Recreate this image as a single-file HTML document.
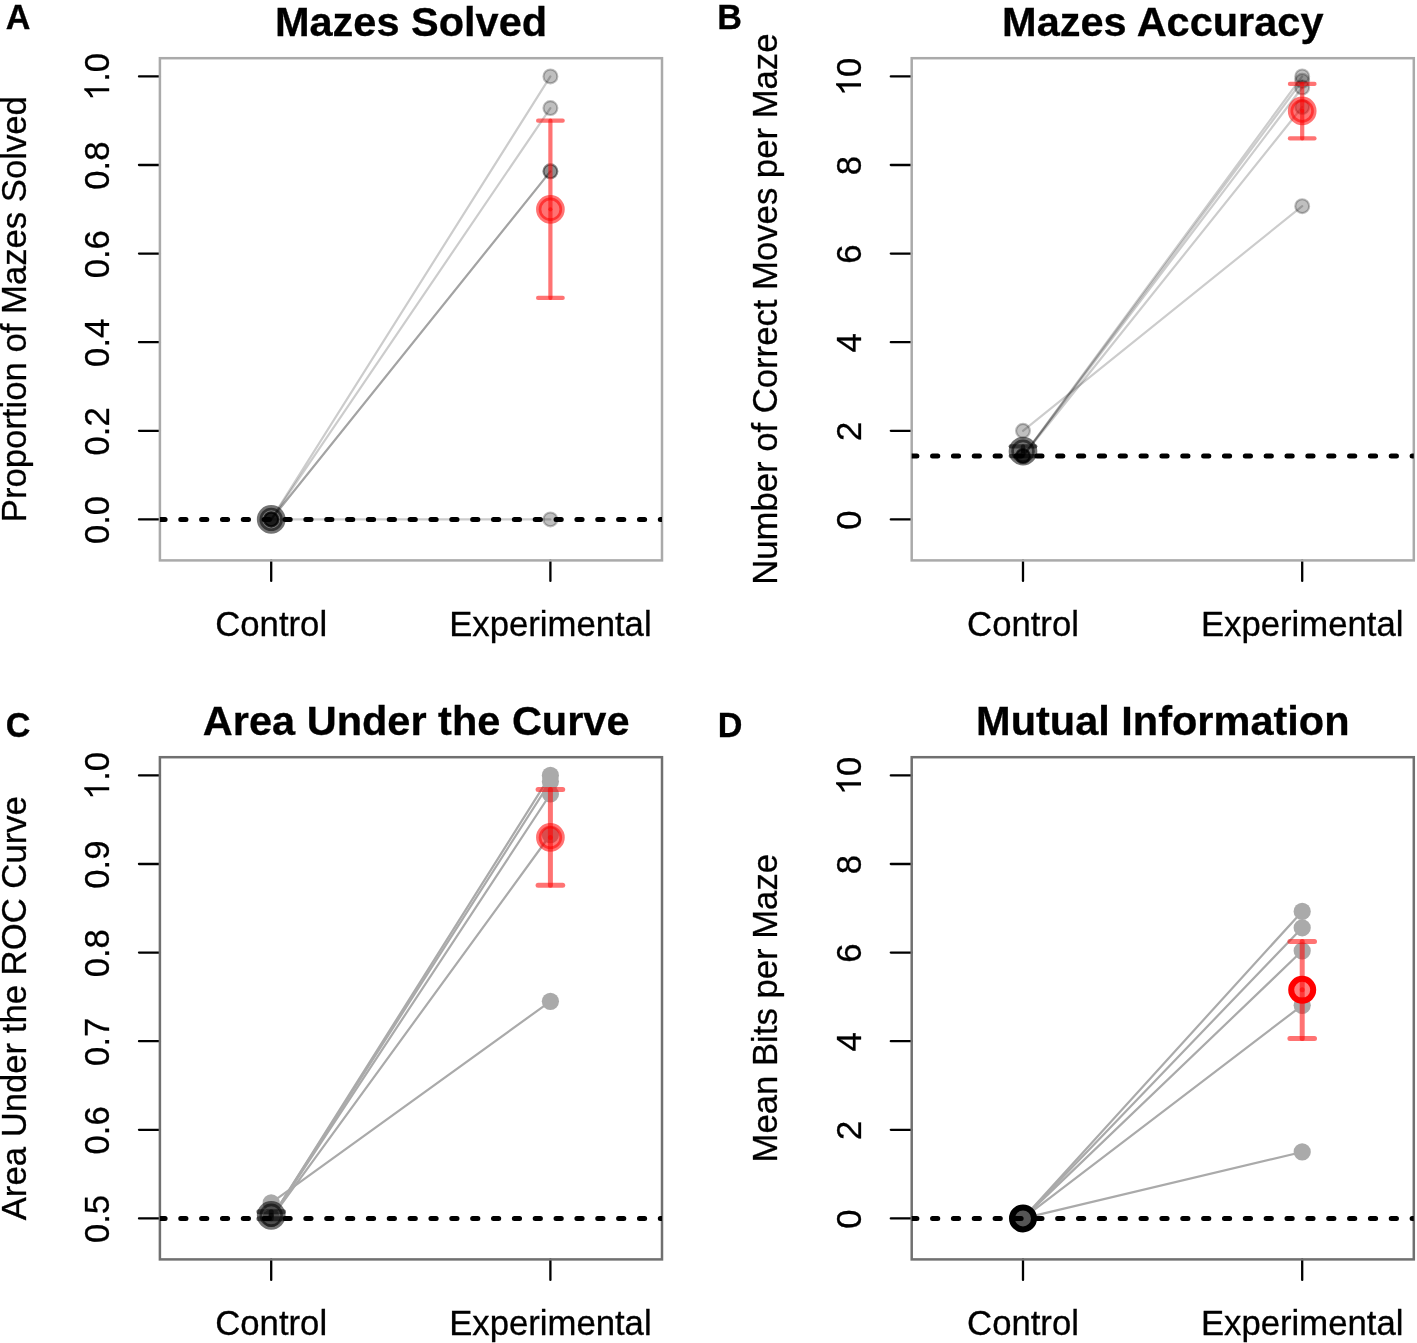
<!DOCTYPE html><html><head><meta charset="utf-8"><style>html,body{margin:0;padding:0;background:#fff;overflow:hidden}svg{display:block;filter:blur(0.5px)}text{font-family:"Liberation Sans", sans-serif;stroke:#000;stroke-width:0.3px}</style></head><body>
<svg width="1417" height="1343" viewBox="0 0 1417 1343">
<rect width="1417" height="1343" fill="#fff"/>
<text x="5.8" y="28.5" font-size="34.2" font-weight="bold">A</text>
<text x="717.3" y="28.5" font-size="34.2" font-weight="bold">B</text>
<text x="5.8" y="737.3" font-size="34.2" font-weight="bold">C</text>
<text x="717.8" y="737.3" font-size="34.2" font-weight="bold">D</text>
<g transform="translate(0,0)">
<clipPath id="clip0"><rect x="159.9" y="58.2" width="502.1" height="502.2"/></clipPath>
<text x="411" y="36" font-size="41.5" font-weight="bold" text-anchor="middle">Mazes Solved</text>
<text transform="translate(25.6,309.2) rotate(-90)" font-size="34.7" text-anchor="middle">Proportion of Mazes Solved</text>
<line x1="139" y1="519.4" x2="159.9" y2="519.4" stroke="#000" stroke-width="2.3" stroke-linecap="round"/>
<text transform="translate(109.2,520) rotate(-90) scale(1,1.035)" font-size="34.7" text-anchor="middle">0.0</text>
<line x1="139" y1="430.8" x2="159.9" y2="430.8" stroke="#000" stroke-width="2.3" stroke-linecap="round"/>
<text transform="translate(109.2,431.4) rotate(-90) scale(1,1.035)" font-size="34.7" text-anchor="middle">0.2</text>
<line x1="139" y1="342.2" x2="159.9" y2="342.2" stroke="#000" stroke-width="2.3" stroke-linecap="round"/>
<text transform="translate(109.2,342.8) rotate(-90) scale(1,1.035)" font-size="34.7" text-anchor="middle">0.4</text>
<line x1="139" y1="253.6" x2="159.9" y2="253.6" stroke="#000" stroke-width="2.3" stroke-linecap="round"/>
<text transform="translate(109.2,254.2) rotate(-90) scale(1,1.035)" font-size="34.7" text-anchor="middle">0.6</text>
<line x1="139" y1="165" x2="159.9" y2="165" stroke="#000" stroke-width="2.3" stroke-linecap="round"/>
<text transform="translate(109.2,165.6) rotate(-90) scale(1,1.035)" font-size="34.7" text-anchor="middle">0.8</text>
<line x1="139" y1="76.4" x2="159.9" y2="76.4" stroke="#000" stroke-width="2.3" stroke-linecap="round"/>
<g transform="translate(109.2,77) rotate(-90)"><path class="g1" transform="translate(-24.12,0) scale(0.01694,-0.01694)" d="M763 0L583 0L583 1147Q518 1085 415 1024Q312 963 223 930L223 1104Q375 1175 487 1274.5Q599 1374 648 1472L763 1472Z" vector-effect="non-scaling-stroke"/><text transform="translate(-4.82,0) scale(1,1.035)" font-size="34.7">.0</text></g>
<line x1="271.2" y1="560.4" x2="271.2" y2="580.9" stroke="#000" stroke-width="2.3" stroke-linecap="round"/>
<text x="271.2" y="635.6" font-size="34.7" text-anchor="middle">Control</text>
<line x1="550.4" y1="560.4" x2="550.4" y2="580.9" stroke="#000" stroke-width="2.3" stroke-linecap="round"/>
<text x="550.4" y="635.6" font-size="34.7" text-anchor="middle">Experimental</text>
<rect x="159.9" y="58.2" width="502.1" height="502.2" fill="none" stroke="#aaaaaa" stroke-width="2.5"/>
<line x1="271.2" y1="519.4" x2="550.4" y2="76.4" stroke="rgba(0,0,0,0.2)" stroke-width="2.2" stroke-linecap="round"/>
<line x1="271.2" y1="519.4" x2="550.4" y2="108.04" stroke="rgba(0,0,0,0.2)" stroke-width="2.2" stroke-linecap="round"/>
<line x1="271.2" y1="519.4" x2="550.4" y2="171.33" stroke="rgba(0,0,0,0.2)" stroke-width="2.2" stroke-linecap="round"/>
<line x1="271.2" y1="519.4" x2="550.4" y2="171.33" stroke="rgba(0,0,0,0.2)" stroke-width="2.2" stroke-linecap="round"/>
<line x1="271.2" y1="519.4" x2="550.4" y2="519.4" stroke="rgba(0,0,0,0.2)" stroke-width="2.2" stroke-linecap="round"/>
<circle cx="271.2" cy="519.4" r="6.95" fill="rgba(0,0,0,0.25)" stroke="rgba(0,0,0,0.25)" stroke-width="2.1"/>
<circle cx="550.4" cy="76.4" r="6.95" fill="rgba(0,0,0,0.25)" stroke="rgba(0,0,0,0.25)" stroke-width="2.1"/>
<circle cx="271.2" cy="519.4" r="6.95" fill="rgba(0,0,0,0.25)" stroke="rgba(0,0,0,0.25)" stroke-width="2.1"/>
<circle cx="550.4" cy="108.04" r="6.95" fill="rgba(0,0,0,0.25)" stroke="rgba(0,0,0,0.25)" stroke-width="2.1"/>
<circle cx="271.2" cy="519.4" r="6.95" fill="rgba(0,0,0,0.25)" stroke="rgba(0,0,0,0.25)" stroke-width="2.1"/>
<circle cx="550.4" cy="171.33" r="6.95" fill="rgba(0,0,0,0.25)" stroke="rgba(0,0,0,0.25)" stroke-width="2.1"/>
<circle cx="271.2" cy="519.4" r="6.95" fill="rgba(0,0,0,0.25)" stroke="rgba(0,0,0,0.25)" stroke-width="2.1"/>
<circle cx="550.4" cy="171.33" r="6.95" fill="rgba(0,0,0,0.25)" stroke="rgba(0,0,0,0.25)" stroke-width="2.1"/>
<circle cx="271.2" cy="519.4" r="6.95" fill="rgba(0,0,0,0.25)" stroke="rgba(0,0,0,0.25)" stroke-width="2.1"/>
<circle cx="550.4" cy="519.4" r="6.95" fill="rgba(0,0,0,0.25)" stroke="rgba(0,0,0,0.25)" stroke-width="2.1"/>
<line x1="159.9" y1="519.4" x2="662" y2="519.4" stroke="#000" stroke-width="5" stroke-linecap="round" stroke-dasharray="5.2 15.65" clip-path="url(#clip0)"/>
<line x1="550.4" y1="209.3" x2="550.4" y2="297.9" stroke="rgba(255,0,0,0.55)" stroke-width="4.2" stroke-linecap="round"/><line x1="538.1" y1="297.9" x2="562.7" y2="297.9" stroke="rgba(255,0,0,0.55)" stroke-width="4.2" stroke-linecap="round"/><line x1="550.4" y1="209.3" x2="550.4" y2="120.7" stroke="rgba(255,0,0,0.55)" stroke-width="4.2" stroke-linecap="round"/><line x1="538.1" y1="120.7" x2="562.7" y2="120.7" stroke="rgba(255,0,0,0.55)" stroke-width="4.2" stroke-linecap="round"/>
<circle cx="271.2" cy="519.4" r="11.7" fill="rgba(0,0,0,0.55)" stroke="rgba(0,0,0,0.55)" stroke-width="5.3"/>
<circle cx="550.4" cy="209.3" r="11.7" fill="rgba(255,0,0,0.55)" stroke="rgba(255,0,0,0.55)" stroke-width="5.3"/>
</g>
<g transform="translate(751.8,0)">
<clipPath id="clip1"><rect x="159.9" y="58.2" width="502.1" height="502.2"/></clipPath>
<text x="411" y="36" font-size="41.5" font-weight="bold" text-anchor="middle">Mazes Accuracy</text>
<text transform="translate(25.6,309.2) rotate(-90)" font-size="34.7" text-anchor="middle">Number of Correct Moves per Maze</text>
<line x1="139" y1="519.4" x2="159.9" y2="519.4" stroke="#000" stroke-width="2.3" stroke-linecap="round"/>
<text transform="translate(109.2,520) rotate(-90) scale(1,1.035)" font-size="34.7" text-anchor="middle">0</text>
<line x1="139" y1="430.8" x2="159.9" y2="430.8" stroke="#000" stroke-width="2.3" stroke-linecap="round"/>
<text transform="translate(109.2,431.4) rotate(-90) scale(1,1.035)" font-size="34.7" text-anchor="middle">2</text>
<line x1="139" y1="342.2" x2="159.9" y2="342.2" stroke="#000" stroke-width="2.3" stroke-linecap="round"/>
<text transform="translate(109.2,342.8) rotate(-90) scale(1,1.035)" font-size="34.7" text-anchor="middle">4</text>
<line x1="139" y1="253.6" x2="159.9" y2="253.6" stroke="#000" stroke-width="2.3" stroke-linecap="round"/>
<text transform="translate(109.2,254.2) rotate(-90) scale(1,1.035)" font-size="34.7" text-anchor="middle">6</text>
<line x1="139" y1="165" x2="159.9" y2="165" stroke="#000" stroke-width="2.3" stroke-linecap="round"/>
<text transform="translate(109.2,165.6) rotate(-90) scale(1,1.035)" font-size="34.7" text-anchor="middle">8</text>
<line x1="139" y1="76.4" x2="159.9" y2="76.4" stroke="#000" stroke-width="2.3" stroke-linecap="round"/>
<g transform="translate(109.2,77) rotate(-90)"><path class="g1" transform="translate(-19.3,0) scale(0.01694,-0.01694)" d="M763 0L583 0L583 1147Q518 1085 415 1024Q312 963 223 930L223 1104Q375 1175 487 1274.5Q599 1374 648 1472L763 1472Z" vector-effect="non-scaling-stroke"/><text transform="translate(0,0) scale(1,1.035)" font-size="34.7">0</text></g>
<line x1="271.2" y1="560.4" x2="271.2" y2="580.9" stroke="#000" stroke-width="2.3" stroke-linecap="round"/>
<text x="271.2" y="635.6" font-size="34.7" text-anchor="middle">Control</text>
<line x1="550.4" y1="560.4" x2="550.4" y2="580.9" stroke="#000" stroke-width="2.3" stroke-linecap="round"/>
<text x="550.4" y="635.6" font-size="34.7" text-anchor="middle">Experimental</text>
<rect x="159.9" y="58.2" width="502.1" height="502.2" fill="none" stroke="#aaaaaa" stroke-width="2.5"/>
<line x1="271.2" y1="456.05" x2="550.4" y2="76.4" stroke="rgba(0,0,0,0.2)" stroke-width="2.2" stroke-linecap="round"/>
<line x1="271.2" y1="456.05" x2="550.4" y2="80.83" stroke="rgba(0,0,0,0.2)" stroke-width="2.2" stroke-linecap="round"/>
<line x1="271.2" y1="456.05" x2="550.4" y2="87.47" stroke="rgba(0,0,0,0.2)" stroke-width="2.2" stroke-linecap="round"/>
<line x1="271.2" y1="430.8" x2="550.4" y2="206.2" stroke="rgba(0,0,0,0.2)" stroke-width="2.2" stroke-linecap="round"/>
<line x1="271.2" y1="456.05" x2="550.4" y2="106.97" stroke="rgba(0,0,0,0.2)" stroke-width="2.2" stroke-linecap="round"/>
<circle cx="271.2" cy="456.05" r="6.95" fill="rgba(0,0,0,0.25)" stroke="rgba(0,0,0,0.25)" stroke-width="2.1"/>
<circle cx="550.4" cy="76.4" r="6.95" fill="rgba(0,0,0,0.25)" stroke="rgba(0,0,0,0.25)" stroke-width="2.1"/>
<circle cx="271.2" cy="456.05" r="6.95" fill="rgba(0,0,0,0.25)" stroke="rgba(0,0,0,0.25)" stroke-width="2.1"/>
<circle cx="550.4" cy="80.83" r="6.95" fill="rgba(0,0,0,0.25)" stroke="rgba(0,0,0,0.25)" stroke-width="2.1"/>
<circle cx="271.2" cy="456.05" r="6.95" fill="rgba(0,0,0,0.25)" stroke="rgba(0,0,0,0.25)" stroke-width="2.1"/>
<circle cx="550.4" cy="87.47" r="6.95" fill="rgba(0,0,0,0.25)" stroke="rgba(0,0,0,0.25)" stroke-width="2.1"/>
<circle cx="271.2" cy="430.8" r="6.95" fill="rgba(0,0,0,0.25)" stroke="rgba(0,0,0,0.25)" stroke-width="2.1"/>
<circle cx="550.4" cy="206.2" r="6.95" fill="rgba(0,0,0,0.25)" stroke="rgba(0,0,0,0.25)" stroke-width="2.1"/>
<circle cx="271.2" cy="456.05" r="6.95" fill="rgba(0,0,0,0.25)" stroke="rgba(0,0,0,0.25)" stroke-width="2.1"/>
<circle cx="550.4" cy="106.97" r="6.95" fill="rgba(0,0,0,0.25)" stroke="rgba(0,0,0,0.25)" stroke-width="2.1"/>
<line x1="159.9" y1="456.05" x2="662" y2="456.05" stroke="#000" stroke-width="5" stroke-linecap="round" stroke-dasharray="5.2 15.65" clip-path="url(#clip1)"/>
<line x1="271.2" y1="451.18" x2="271.2" y2="456.05" stroke="rgba(0,0,0,0.55)" stroke-width="4.2" stroke-linecap="round"/><line x1="258.9" y1="456.05" x2="283.5" y2="456.05" stroke="rgba(0,0,0,0.55)" stroke-width="4.2" stroke-linecap="round"/><line x1="271.2" y1="451.18" x2="271.2" y2="446.3" stroke="rgba(0,0,0,0.55)" stroke-width="4.2" stroke-linecap="round"/><line x1="258.9" y1="446.3" x2="283.5" y2="446.3" stroke="rgba(0,0,0,0.55)" stroke-width="4.2" stroke-linecap="round"/>
<line x1="550.4" y1="110.95" x2="550.4" y2="138.42" stroke="rgba(255,0,0,0.55)" stroke-width="4.2" stroke-linecap="round"/><line x1="538.1" y1="138.42" x2="562.7" y2="138.42" stroke="rgba(255,0,0,0.55)" stroke-width="4.2" stroke-linecap="round"/><line x1="550.4" y1="110.95" x2="550.4" y2="83.93" stroke="rgba(255,0,0,0.55)" stroke-width="4.2" stroke-linecap="round"/><line x1="538.1" y1="83.93" x2="562.7" y2="83.93" stroke="rgba(255,0,0,0.55)" stroke-width="4.2" stroke-linecap="round"/>
<circle cx="271.2" cy="451.18" r="11.7" fill="rgba(0,0,0,0.55)" stroke="rgba(0,0,0,0.55)" stroke-width="5.3"/>
<circle cx="550.4" cy="110.95" r="11.7" fill="rgba(255,0,0,0.55)" stroke="rgba(255,0,0,0.55)" stroke-width="5.3"/>
</g>
<g transform="translate(0,699)">
<clipPath id="clip2"><rect x="159.9" y="58.2" width="502.1" height="502.2"/></clipPath>
<text x="416.2" y="36" font-size="41.5" font-weight="bold" text-anchor="middle">Area Under the Curve</text>
<text transform="translate(25.6,309.2) rotate(-90)" font-size="34.7" text-anchor="middle">Area Under the ROC Curve</text>
<line x1="139" y1="519.4" x2="159.9" y2="519.4" stroke="#000" stroke-width="2.3" stroke-linecap="round"/>
<text transform="translate(109.2,520) rotate(-90) scale(1,1.035)" font-size="34.7" text-anchor="middle">0.5</text>
<line x1="139" y1="430.8" x2="159.9" y2="430.8" stroke="#000" stroke-width="2.3" stroke-linecap="round"/>
<text transform="translate(109.2,431.4) rotate(-90) scale(1,1.035)" font-size="34.7" text-anchor="middle">0.6</text>
<line x1="139" y1="342.2" x2="159.9" y2="342.2" stroke="#000" stroke-width="2.3" stroke-linecap="round"/>
<text transform="translate(109.2,342.8) rotate(-90) scale(1,1.035)" font-size="34.7" text-anchor="middle">0.7</text>
<line x1="139" y1="253.6" x2="159.9" y2="253.6" stroke="#000" stroke-width="2.3" stroke-linecap="round"/>
<text transform="translate(109.2,254.2) rotate(-90) scale(1,1.035)" font-size="34.7" text-anchor="middle">0.8</text>
<line x1="139" y1="165" x2="159.9" y2="165" stroke="#000" stroke-width="2.3" stroke-linecap="round"/>
<text transform="translate(109.2,165.6) rotate(-90) scale(1,1.035)" font-size="34.7" text-anchor="middle">0.9</text>
<line x1="139" y1="76.4" x2="159.9" y2="76.4" stroke="#000" stroke-width="2.3" stroke-linecap="round"/>
<g transform="translate(109.2,77) rotate(-90)"><path class="g1" transform="translate(-24.12,0) scale(0.01694,-0.01694)" d="M763 0L583 0L583 1147Q518 1085 415 1024Q312 963 223 930L223 1104Q375 1175 487 1274.5Q599 1374 648 1472L763 1472Z" vector-effect="non-scaling-stroke"/><text transform="translate(-4.82,0) scale(1,1.035)" font-size="34.7">.0</text></g>
<line x1="271.2" y1="560.4" x2="271.2" y2="580.9" stroke="#000" stroke-width="2.3" stroke-linecap="round"/>
<text x="271.2" y="635.6" font-size="34.7" text-anchor="middle">Control</text>
<line x1="550.4" y1="560.4" x2="550.4" y2="580.9" stroke="#000" stroke-width="2.3" stroke-linecap="round"/>
<text x="550.4" y="635.6" font-size="34.7" text-anchor="middle">Experimental</text>
<rect x="159.9" y="58.2" width="502.1" height="502.2" fill="none" stroke="#707070" stroke-width="2.5"/>
<line x1="271.2" y1="519.4" x2="550.4" y2="76.4" stroke="#aaaaaa" stroke-width="2.2" stroke-linecap="round"/>
<line x1="271.2" y1="519.4" x2="550.4" y2="82.6" stroke="#aaaaaa" stroke-width="2.2" stroke-linecap="round"/>
<line x1="271.2" y1="519.4" x2="550.4" y2="95.01" stroke="#aaaaaa" stroke-width="2.2" stroke-linecap="round"/>
<line x1="271.2" y1="503.9" x2="550.4" y2="302.33" stroke="#aaaaaa" stroke-width="2.2" stroke-linecap="round"/>
<line x1="271.2" y1="519.4" x2="550.4" y2="135.76" stroke="#aaaaaa" stroke-width="2.2" stroke-linecap="round"/>
<circle cx="271.2" cy="519.4" r="8.6" fill="#aaaaaa"/>
<circle cx="550.4" cy="76.4" r="8.6" fill="#aaaaaa"/>
<circle cx="271.2" cy="519.4" r="8.6" fill="#aaaaaa"/>
<circle cx="550.4" cy="82.6" r="8.6" fill="#aaaaaa"/>
<circle cx="271.2" cy="519.4" r="8.6" fill="#aaaaaa"/>
<circle cx="550.4" cy="95.01" r="8.6" fill="#aaaaaa"/>
<circle cx="271.2" cy="503.9" r="8.6" fill="#aaaaaa"/>
<circle cx="550.4" cy="302.33" r="8.6" fill="#aaaaaa"/>
<circle cx="271.2" cy="519.4" r="8.6" fill="#aaaaaa"/>
<circle cx="550.4" cy="135.76" r="8.6" fill="#aaaaaa"/>
<line x1="159.9" y1="519.4" x2="662" y2="519.4" stroke="#000" stroke-width="5" stroke-linecap="round" stroke-dasharray="5.2 15.65" clip-path="url(#clip2)"/>
<line x1="271.2" y1="516.3" x2="271.2" y2="519.84" stroke="rgba(0,0,0,0.55)" stroke-width="5" stroke-linecap="round"/><line x1="258.9" y1="519.84" x2="283.5" y2="519.84" stroke="rgba(0,0,0,0.55)" stroke-width="5" stroke-linecap="round"/><line x1="271.2" y1="516.3" x2="271.2" y2="512.75" stroke="rgba(0,0,0,0.55)" stroke-width="5" stroke-linecap="round"/><line x1="258.9" y1="512.75" x2="283.5" y2="512.75" stroke="rgba(0,0,0,0.55)" stroke-width="5" stroke-linecap="round"/>
<line x1="550.4" y1="138.42" x2="550.4" y2="186.26" stroke="rgba(255,0,0,0.55)" stroke-width="5" stroke-linecap="round"/><line x1="538.1" y1="186.26" x2="562.7" y2="186.26" stroke="rgba(255,0,0,0.55)" stroke-width="5" stroke-linecap="round"/><line x1="550.4" y1="138.42" x2="550.4" y2="90.58" stroke="rgba(255,0,0,0.55)" stroke-width="5" stroke-linecap="round"/><line x1="538.1" y1="90.58" x2="562.7" y2="90.58" stroke="rgba(255,0,0,0.55)" stroke-width="5" stroke-linecap="round"/>
<circle cx="271.2" cy="516.3" r="11.7" fill="rgba(0,0,0,0.55)" stroke="rgba(0,0,0,0.55)" stroke-width="5.3"/>
<circle cx="550.4" cy="138.42" r="11.7" fill="rgba(255,0,0,0.55)" stroke="rgba(255,0,0,0.55)" stroke-width="5.3"/>
</g>
<g transform="translate(751.8,699)">
<clipPath id="clip3"><rect x="159.9" y="58.2" width="502.1" height="502.2"/></clipPath>
<text x="411" y="36" font-size="41.5" font-weight="bold" text-anchor="middle">Mutual Information</text>
<text transform="translate(25.6,309.2) rotate(-90)" font-size="34.7" text-anchor="middle">Mean Bits per Maze</text>
<line x1="139" y1="519.4" x2="159.9" y2="519.4" stroke="#000" stroke-width="2.3" stroke-linecap="round"/>
<text transform="translate(109.2,520) rotate(-90) scale(1,1.035)" font-size="34.7" text-anchor="middle">0</text>
<line x1="139" y1="430.8" x2="159.9" y2="430.8" stroke="#000" stroke-width="2.3" stroke-linecap="round"/>
<text transform="translate(109.2,431.4) rotate(-90) scale(1,1.035)" font-size="34.7" text-anchor="middle">2</text>
<line x1="139" y1="342.2" x2="159.9" y2="342.2" stroke="#000" stroke-width="2.3" stroke-linecap="round"/>
<text transform="translate(109.2,342.8) rotate(-90) scale(1,1.035)" font-size="34.7" text-anchor="middle">4</text>
<line x1="139" y1="253.6" x2="159.9" y2="253.6" stroke="#000" stroke-width="2.3" stroke-linecap="round"/>
<text transform="translate(109.2,254.2) rotate(-90) scale(1,1.035)" font-size="34.7" text-anchor="middle">6</text>
<line x1="139" y1="165" x2="159.9" y2="165" stroke="#000" stroke-width="2.3" stroke-linecap="round"/>
<text transform="translate(109.2,165.6) rotate(-90) scale(1,1.035)" font-size="34.7" text-anchor="middle">8</text>
<line x1="139" y1="76.4" x2="159.9" y2="76.4" stroke="#000" stroke-width="2.3" stroke-linecap="round"/>
<g transform="translate(109.2,77) rotate(-90)"><path class="g1" transform="translate(-19.3,0) scale(0.01694,-0.01694)" d="M763 0L583 0L583 1147Q518 1085 415 1024Q312 963 223 930L223 1104Q375 1175 487 1274.5Q599 1374 648 1472L763 1472Z" vector-effect="non-scaling-stroke"/><text transform="translate(0,0) scale(1,1.035)" font-size="34.7">0</text></g>
<line x1="271.2" y1="560.4" x2="271.2" y2="580.9" stroke="#000" stroke-width="2.3" stroke-linecap="round"/>
<text x="271.2" y="635.6" font-size="34.7" text-anchor="middle">Control</text>
<line x1="550.4" y1="560.4" x2="550.4" y2="580.9" stroke="#000" stroke-width="2.3" stroke-linecap="round"/>
<text x="550.4" y="635.6" font-size="34.7" text-anchor="middle">Experimental</text>
<rect x="159.9" y="58.2" width="502.1" height="502.2" fill="none" stroke="#707070" stroke-width="2.5"/>
<line x1="271.2" y1="519.4" x2="550.4" y2="212.4" stroke="#aaaaaa" stroke-width="2.2" stroke-linecap="round"/>
<line x1="271.2" y1="519.4" x2="550.4" y2="228.79" stroke="#aaaaaa" stroke-width="2.2" stroke-linecap="round"/>
<line x1="271.2" y1="519.4" x2="550.4" y2="251.83" stroke="#aaaaaa" stroke-width="2.2" stroke-linecap="round"/>
<line x1="271.2" y1="519.4" x2="550.4" y2="306.32" stroke="#aaaaaa" stroke-width="2.2" stroke-linecap="round"/>
<line x1="271.2" y1="519.4" x2="550.4" y2="452.95" stroke="#aaaaaa" stroke-width="2.2" stroke-linecap="round"/>
<circle cx="271.2" cy="519.4" r="8.6" fill="#aaaaaa"/>
<circle cx="550.4" cy="212.4" r="8.6" fill="#aaaaaa"/>
<circle cx="271.2" cy="519.4" r="8.6" fill="#aaaaaa"/>
<circle cx="550.4" cy="228.79" r="8.6" fill="#aaaaaa"/>
<circle cx="271.2" cy="519.4" r="8.6" fill="#aaaaaa"/>
<circle cx="550.4" cy="251.83" r="8.6" fill="#aaaaaa"/>
<circle cx="271.2" cy="519.4" r="8.6" fill="#aaaaaa"/>
<circle cx="550.4" cy="306.32" r="8.6" fill="#aaaaaa"/>
<circle cx="271.2" cy="519.4" r="8.6" fill="#aaaaaa"/>
<circle cx="550.4" cy="452.95" r="8.6" fill="#aaaaaa"/>
<line x1="159.9" y1="519.4" x2="662" y2="519.4" stroke="#000" stroke-width="5" stroke-linecap="round" stroke-dasharray="5.2 15.65" clip-path="url(#clip3)"/>
<line x1="550.4" y1="290.81" x2="550.4" y2="339.54" stroke="rgba(255,0,0,0.55)" stroke-width="5" stroke-linecap="round"/><line x1="538.1" y1="339.54" x2="562.7" y2="339.54" stroke="rgba(255,0,0,0.55)" stroke-width="5" stroke-linecap="round"/><line x1="550.4" y1="290.81" x2="550.4" y2="242.52" stroke="rgba(255,0,0,0.55)" stroke-width="5" stroke-linecap="round"/><line x1="538.1" y1="242.52" x2="562.7" y2="242.52" stroke="rgba(255,0,0,0.55)" stroke-width="5" stroke-linecap="round"/>
<circle cx="271.2" cy="519.4" r="11" fill="rgba(0,0,0,0.5)" stroke="#000" stroke-width="6"/>
<circle cx="550.4" cy="290.81" r="11" fill="rgba(255,0,0,0.5)" stroke="#ff0000" stroke-width="6"/>
</g>
</svg></body></html>
